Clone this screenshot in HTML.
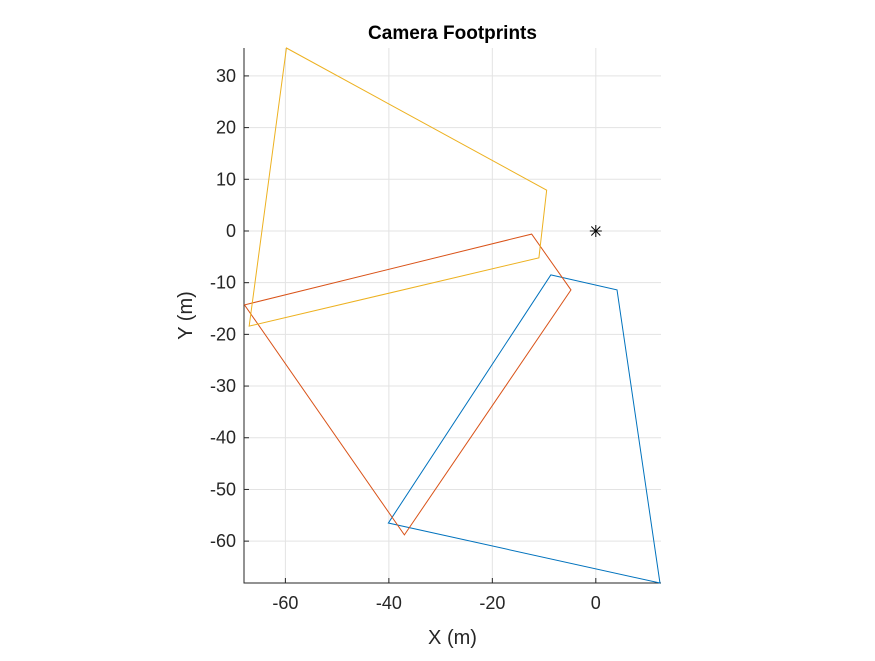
<!DOCTYPE html>
<html><head><meta charset="utf-8"><style>
body{margin:0;background:#fff;width:875px;height:656px;overflow:hidden}
svg{font-family:"Liberation Sans",Arial,sans-serif}
</style></head><body>
<svg id="chart" width="875" height="656"></svg>
<script>
const xTicks=[-60,-40,-20,0];
const yTicks=[30,20,10,0,-10,-20,-30,-40,-50,-60];
const blueX=[-8.7,4.1,12.4,-40.1];
const blueY=[-8.5,-11.4,-68.1,-56.5];
const redX=[-12.4,-4.8,-37,-67.9];
const redY=[-0.6,-11.4,-58.8,-14.3];
const yellowX=[-59.8,-9.5,-11,-67];
const yellowY=[35.4,7.9,-5.2,-18.4];
const cameraX=[0];
const cameraY=[0];
const L=244,R=661,T=48,B=583,xmin=-68,xmax=12.6,ymin=-68.1,ymax=35.4;
const sx=v=>L+(v-xmin)/(xmax-xmin)*(R-L);
const sy=v=>B-(v-ymin)/(ymax-ymin)*(B-T);
const svg=document.getElementById('chart');
const NS='http://www.w3.org/2000/svg';
function mk(tag,attrs,parent){const e=document.createElementNS(NS,tag);for(const k in attrs)e.setAttribute(k,attrs[k]);(parent||svg).appendChild(e);return e;}
const grid=mk('g',{});


xTicks.forEach(v=>{mk('line',{x1:sx(v),x2:sx(v),y1:T,y2:B,stroke:'#e3e3e3','stroke-width':1},grid);
 const t=mk('text',{x:sx(v),y:B+26,'text-anchor':'middle','font-size':18,fill:'#262626'});t.textContent=v;
 
 });
yTicks.forEach(v=>{mk('line',{x1:L,x2:R,y1:sy(v),y2:sy(v),stroke:'#e3e3e3','stroke-width':1},grid);
 const t=mk('text',{x:L-8,y:sy(v)+6,'text-anchor':'end','font-size':18,fill:'#262626'});t.textContent=v;
 
 });
const ax=mk('path',{d:`M${L},${T}V${B}H${R}`,fill:'none',stroke:'#262626','stroke-width':1});


xTicks.forEach(v=>mk('line',{x1:sx(v),x2:sx(v),y1:B,y2:B-5,stroke:'#262626'}));
yTicks.forEach(v=>mk('line',{x1:L,x2:L+5,y1:sy(v),y2:sy(v),stroke:'#262626'}));
function poly(xs,ys,col,name){const p=mk('polygon',{points:xs.map((x,i)=>sx(x)+','+sy(ys[i])).join(' '),fill:'none',stroke:col,'stroke-width':1});
 
 }
poly(blueX,blueY,'#0072BD','footprint-blue');
poly(redX,redY,'#D95319','footprint-red');
poly(yellowX,yellowY,'#EDB120','footprint-yellow');
cameraX.forEach((x,i)=>{const cx=sx(x),cy=sy(cameraY[i]);const g=mk('g',{stroke:'#000','stroke-width':1});
 
 
 mk('line',{x1:cx-6,x2:cx+6,y1:cy,y2:cy},g);mk('line',{x1:cx,x2:cx,y1:cy-6,y2:cy+6},g);
 mk('line',{x1:cx-4.5,x2:cx+4.5,y1:cy-4.5,y2:cy+4.5},g);mk('line',{x1:cx-4.5,x2:cx+4.5,y1:cy+4.5,y2:cy-4.5},g);});
const title=mk('text',{x:(L+R)/2,y:39,'text-anchor':'middle','font-size':19,'font-weight':'bold',fill:'#000'});title.textContent='Camera Footprints';


const xl=mk('text',{x:(L+R)/2,y:644,'text-anchor':'middle','font-size':20,fill:'#262626'});xl.textContent='X (m)';


const yl=mk('text',{x:0,y:0,'text-anchor':'middle','font-size':20,fill:'#262626',transform:`translate(192,${(T+B)/2}) rotate(-90)`});yl.textContent='Y (m)';


</script>
</body></html>
